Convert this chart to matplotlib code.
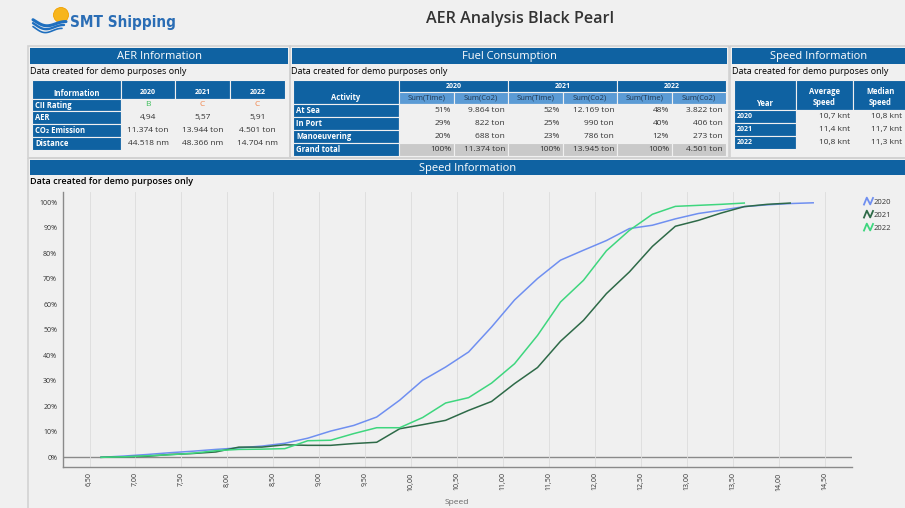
import matplotlib.pyplot as plt
from matplotlib.patches import Rectangle, Circle
from matplotlib.lines import Line2D
from matplotlib.path import Path
import numpy as np

# ---------------------------
# Data
# ---------------------------
years = ["2020", "2021", "2022"]

aer_rows = ["CII Rating", "AER", "CO\u2082 Emission", "Distance"]
cii_rating = ["B", "C", "C"]
aer_values = ["4,94", "5,57", "5,91"]
co2_emission = ["11.374 ton", "13.944 ton", "4.501 ton"]
distance = ["44.518 nm", "48.366 nm", "14.704 nm"]

activities = ["At Sea", "In Port", "Manoeuvering", "Grand total"]
time_share = {"2020": ["51%", "29%", "20%", "100%"],
              "2021": ["52%", "25%", "23%", "100%"],
              "2022": ["48%", "40%", "12%", "100%"]}
co2_sum = {"2020": ["9.864 ton", "822 ton", "688 ton", "11.374 ton"],
           "2021": ["12.169 ton", "990 ton", "786 ton", "13.945 ton"],
           "2022": ["3.822 ton", "406 ton", "273 ton", "4.501 ton"]}

avg_speed = ["10,7 knt", "11,4 knt", "10,8 knt"]
median_speed = ["10,8 knt", "11,7 knt", "11,3 knt"]

# cumulative share of time per speed (%)
speed = [6.625, 6.875, 7.125, 7.375, 7.625, 7.875, 8.125, 8.375, 8.625, 8.875,
         9.125, 9.375, 9.625, 9.875, 10.125, 10.375, 10.625, 10.875, 11.125, 11.375,
         11.625, 11.875, 12.125, 12.375, 12.625, 12.875, 13.125, 13.375, 13.625, 13.875,
         14.125, 14.375]
cum_2020 = [0, 0.5, 1.1, 1.8, 2.4, 3.1, 3.7, 4.4, 5.5, 7.5,
            10.3, 12.5, 15.8, 22.4, 30.2, 35.4, 41.3, 51.1, 61.7, 70.1,
            77.3, 81.2, 85.0, 89.7, 91.0, 93.5, 95.6, 96.9, 98.3, 99.0,
            99.5, 99.8]
cum_2021 = [0, 0.2, 0.4, 1.1, 1.5, 2.1, 4.0, 4.0, 4.9, 4.7,
            4.7, 5.4, 5.9, 11.2, 12.8, 14.5, 18.4, 21.9, 28.9, 35.2,
            45.5, 53.7, 64.2, 72.7, 82.7, 90.6, 92.9, 95.8, 98.3, 99.2,
            99.7]
cum_2022 = [0, 0.2, 0.6, 1.0, 1.6, 2.6, 3.1, 3.2, 3.4, 6.5,
            6.7, 9.3, 11.6, 11.6, 15.6, 21.3, 23.4, 29.1, 36.7, 47.8,
            60.9, 69.4, 81.0, 89.0, 95.3, 98.4, 98.8, 99.2, 99.7]

x_ticks = [6.5, 7.0, 7.5, 8.0, 8.5, 9.0, 9.5, 10.0, 10.5, 11.0, 11.5, 12.0,
           12.5, 13.0, 13.5, 14.0, 14.5]
x_tick_labels = ["6,50", "7,00", "7,50", "8,00", "8,50", "9,00", "9,50", "10,00",
                 "10,50", "11,00", "11,50", "12,00", "12,50", "13,00", "13,50",
                 "14,00", "14,50"]

# ---------------------------
# Styles
# ---------------------------
BG = "#f0f0f0"
BLUE = "#0f62a2"
LIGHT_BLUE = "#5b9bd5"
BORDER = "#d2d2d2"
TXT = "#333333"
plt.rcParams["font.family"] = ["Open Sans", "DejaVu Sans"]

fig = plt.figure(figsize=(9.05, 5.08), dpi=100, facecolor=BG)
bg = fig.add_axes([0, 0, 1, 1])
bg.set_xlim(0, 905)
bg.set_ylim(508, 0)
bg.axis("off")
bg.set_facecolor(BG)


def cell(x0, y0, x1, y1, fc, text="", color="white", ha="center", weight="bold",
         size=5.5, va_y=None, tc=None):
    bg.add_patch(Rectangle((x0, y0), x1 - x0, y1 - y0, facecolor=fc,
                           edgecolor=BG, linewidth=0.8))
    if text:
        if ha == "left":
            tx = x0 + 3
        elif ha == "right":
            tx = x1 - 3
        else:
            tx = (x0 + x1) / 2
        ty = (y0 + y1) / 2 if va_y is None else va_y
        bg.text(tx, ty, text, ha=ha, va="center", color=color if tc is None else tc,
                fontsize=size, fontweight=weight)


def panel_header(x0, x1, y0, y1, title):
    bg.add_patch(Rectangle((x0, y0), x1 - x0, y1 - y0, facecolor=BLUE, edgecolor="none"))
    bg.text((x0 + x1) / 2, (y0 + y1) / 2 + 0.5, title, ha="center", va="center",
            color="white", fontsize=8)


# panel borders
for (x0, y0, x1, y1) in [(28, 46, 290, 158), (290, 46, 729, 158), (730, 46, 906, 158),
                         (28, 158, 906, 509)]:
    bg.add_patch(Rectangle((x0, y0), x1 - x0, y1 - y0, facecolor="none",
                           edgecolor=BORDER, linewidth=1.2))

# ---------------------------
# Logo + title
# ---------------------------
bg.add_patch(Circle((61, 15), 7.5, facecolor="#f7b51c", edgecolor="#f0a000", linewidth=0.6,
                    zorder=2))
wx = np.linspace(0, 1, 80)
for k in range(3):
    xs = 33 + wx * (33 - k * 2)
    ys = 22 + k * 3.4 + 4.0 * np.sin(wx * np.pi * 1.6 - 0.6) * (1 - wx * 0.5) + wx * 1.5
    bg.plot(xs, ys, color="#1f6fbf", linewidth=2.2 - k * 0.5, solid_capstyle="round",
            zorder=3)
bg.text(70, 23, "SMT Shipping", ha="left", va="center", color="#2a6db5",
        fontsize=11, fontweight="bold", family="DejaVu Sans", fontstretch="condensed")
bg.text(520, 19, "AER Analysis Black Pearl", ha="center", va="center",
        color=TXT, fontsize=11.6, fontweight="semibold")

# ---------------------------
# AER Information panel
# ---------------------------
panel_header(30, 288, 48, 64, "AER Information")
bg.text(30, 71, "Data created for demo purposes only", ha="left", va="center",
        fontsize=6.5, color="black")
aer_x = [32, 121, 175, 230, 285]
cell(aer_x[0], 80, aer_x[1], 99, BLUE, "Information", va_y=93)
for i, y in enumerate(years):
    cell(aer_x[i + 1], 80, aer_x[i + 2], 99, BLUE, y, va_y=93, size=5)
aer_y = [99, 111, 124, 137, 150]
aer_data = [cii_rating, aer_values, co2_emission, distance]
for r, label in enumerate(aer_rows):
    cell(aer_x[0], aer_y[r], aer_x[1], aer_y[r + 1], BLUE, label, ha="left")
    for c in range(3):
        val = aer_data[r][c]
        col = TXT
        if r == 0:
            col = "#3fbf5c" if val == "B" else "#f0844a"
        cell(aer_x[c + 1], aer_y[r], aer_x[c + 2], aer_y[r + 1], BG, val,
             weight="normal", tc=col, size=6)

# ---------------------------
# Fuel Consumption panel
# ---------------------------
panel_header(292, 727, 48, 64, "Fuel Consumption")
bg.text(291, 71, "Data created for demo purposes only", ha="left", va="center",
        fontsize=6.5, color="black")
fx = [293, 399, 454, 508, 563, 617, 672, 726]
cell(fx[0], 80, fx[1], 104, BLUE, "Activity", va_y=98)
for i, y in enumerate(years):
    cell(fx[1 + 2 * i], 80, fx[3 + 2 * i], 92, BLUE, y, size=5)
    cell(fx[1 + 2 * i], 92, fx[2 + 2 * i], 104, LIGHT_BLUE, "Sum(Time)",
         weight="normal", tc="#1c3550", size=5.5)
    cell(fx[2 + 2 * i], 92, fx[3 + 2 * i], 104, LIGHT_BLUE, "Sum(Co2)",
         weight="normal", tc="#1c3550", size=5.5)
fy = [104, 117, 130, 143, 156]
for r, act in enumerate(activities):
    cell(fx[0], fy[r], fx[1], fy[r + 1], BLUE, act, ha="left")
    fc = "#c9c9c9" if act == "Grand total" else BG
    for i, y in enumerate(years):
        cell(fx[1 + 2 * i], fy[r], fx[2 + 2 * i], fy[r + 1], fc, time_share[y][r],
             ha="right", weight="normal", tc=TXT, size=6)
        cell(fx[2 + 2 * i], fy[r], fx[3 + 2 * i], fy[r + 1], fc, co2_sum[y][r],
             ha="right", weight="normal", tc=TXT, size=6)

# ---------------------------
# Speed Information panel
# ---------------------------
panel_header(732, 906, 48, 64, "Speed Information")
bg.text(732, 71, "Data created for demo purposes only", ha="left", va="center",
        fontsize=6.5, color="black")
sx = [734, 796, 853, 908]
cell(sx[0], 80, sx[1], 110, BLUE, "Year", va_y=103)
cell(sx[1], 80, sx[2], 110, BLUE, "Average\nSpeed", va_y=97)
cell(sx[2], 80, sx[3], 110, BLUE, "Median\nSpeed", va_y=97)
sy = [110, 123, 136, 149]
for r, y in enumerate(years):
    cell(sx[0], sy[r], sx[1], sy[r + 1], BLUE, y, ha="left", size=5)
    cell(sx[1], sy[r], sx[2], sy[r + 1], BG, avg_speed[r], ha="right",
         weight="normal", tc=TXT, size=6)
    cell(sx[2], sy[r], 905, sy[r + 1], BG, median_speed[r], ha="right",
         weight="normal", tc=TXT, size=6)

# ---------------------------
# Speed chart
# ---------------------------
panel_header(30, 906, 160, 175, "Speed Information")
bg.text(30, 182, "Data created for demo purposes only", ha="left", va="center",
        fontsize=6.5, color="black", fontweight="semibold")

ax = fig.add_axes([62.7 / 905, 1 - 466.7 / 508, 789 / 905, 275 / 508])
ax.patch.set_alpha(0)
ax.plot(speed, cum_2020, color="#6f8ff0", linewidth=1.1, label="2020")
ax.plot(speed[:len(cum_2021)], cum_2021, color="#2e6a48", linewidth=1.1, label="2021")
ax.plot(speed[:len(cum_2022)], cum_2022, color="#3ed67e", linewidth=1.1, label="2022")
ax.axhline(0, color="#8a8a8a", linewidth=1.0, zorder=1)
ax.set_xlim(6.208, 14.794)
ax.set_ylim(-3.68, 104.15)
ax.set_xticks(x_ticks)
ax.set_xticklabels(x_tick_labels, rotation=90, fontsize=5, color=TXT)
ax.set_yticks(range(0, 101, 10))
ax.set_yticklabels([f"{v}%" for v in range(0, 101, 10)], fontsize=5, color=TXT)
ax.tick_params(length=0, pad=4)
ax.grid(axis="x", color="#dcdcdc", linewidth=0.6)
for s in ["top", "right"]:
    ax.spines[s].set_visible(False)
for s in ["left", "bottom"]:
    ax.spines[s].set_color("#8a8a8a")
    ax.spines[s].set_linewidth(1.0)
ax.set_xlabel("Speed", fontsize=6, color="#666666", labelpad=6)

zig = Path([(-1, -0.8), (-0.35, 0.8), (0.35, -0.6), (1, 0.9)],
           [Path.MOVETO, Path.LINETO, Path.LINETO, Path.LINETO])
handles = [Line2D([], [], linestyle="none", marker=zig, markersize=7,
                  markerfacecolor="none", markeredgecolor=c, markeredgewidth=1.3, label=y)
           for c, y in zip(["#6f8ff0", "#2e6a48", "#3ed67e"], years)]
ax.legend(handles=handles, loc="upper left", bbox_to_anchor=(1.008, 1.0), frameon=False,
          fontsize=5.5, handlelength=0.8, handletextpad=0.4, labelspacing=0.75,
          borderaxespad=0.5, labelcolor=TXT)

plt.savefig("out.png", dpi=100, facecolor=BG)
plt.close()
print("Saved out.png")
